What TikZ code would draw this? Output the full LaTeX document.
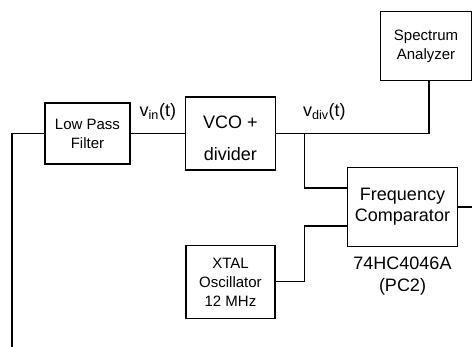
\documentclass[tikz,border=0pt]{standalone}
\usepackage{fontspec}
\setmainfont{Liberation Sans}
\usetikzlibrary{positioning}
\tikzset{
  blk/.style={draw, line width=1.2pt, align=center, inner sep=0pt},
  smallblk/.style={blk, font=\fontsize{15}{19}\selectfont},
  bigblk/.style={blk, font=\fontsize{18}{21}\selectfont},
  sig/.style={inner sep=0pt, font=\fontsize{18}{21}\selectfont},
  wire/.style={line width=1.2pt},
}

\begin{document}
\begin{tikzpicture}[x=1pt, y=-1pt]
  \useasboundingbox (0,0) rectangle (472,347);
  \node[smallblk, minimum width=85pt, minimum height=61pt] (lpf) at (87.5,133.5) {Low Pass\\Filter};
  \node[bigblk, minimum width=89.5pt, minimum height=73pt, text height=54.5pt, text depth=0pt, right=54.5pt of lpf] (vco) {VCO +\\[11pt]divider};
  \node[smallblk, minimum width=89pt, minimum height=73.3pt, below=74pt of vco] (xtal) {XTAL\\Oscillator\\12 MHz};
  \node[smallblk, minimum width=91pt, minimum height=68.5pt] (spec) at (426,46) {Spectrum\\Analyzer};
  \node[bigblk, minimum width=109.5pt, minimum height=78.5pt] (comp) at (402.5,207) {Frequency\\Comparator};
  \node[sig, align=center, font=\fontsize{18}{22.5}\selectfont, below=9.5pt of comp] (part) {74HC4046A\\(PC2)};

  \coordinate (fb) at (12,347);
  \coordinate (outR) at (472,0);
  \coordinate (sptap) at ([xshift=3pt]spec.south);
  \path (vco.east) ++(29,0) coordinate (tap);

  \draw[wire] (fb) |- (lpf.west);
  \draw[wire] (lpf) -- node[sig, above=13pt] (vin) {v\textsubscript{in}(t)} (vco);
  \draw[wire] (vco.east) -| (sptap);
  \node[sig, above right=13pt and -2pt of tap] (vdiv) {v\textsubscript{div}(t)};
  \draw[wire] (tap) |- ([yshift=19pt]comp.west);
  \draw[wire] (xtal.east) -- (xtal.east -| tap) |- ([yshift=-19pt]comp.west);
  \draw[wire] (comp.east) -- (comp.east -| outR);
\end{tikzpicture}
\end{document}
